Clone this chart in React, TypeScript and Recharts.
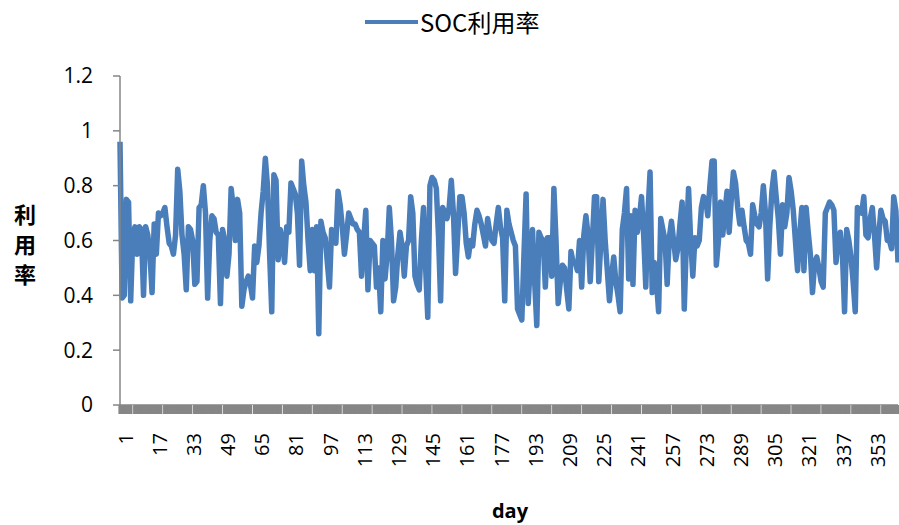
import React from "react";
import { LineChart, Line, XAxis, YAxis } from "recharts";

const days: number[] = Array.from({ length: 365 }, (_, i) => i + 1);

const socRate: number[] = [
  0.96, 0.39, 0.40, 0.75, 0.74, 0.38, 0.62, 0.65, 0.55, 0.65,
  0.64, 0.40, 0.65, 0.62, 0.55, 0.41, 0.66, 0.55, 0.70, 0.69,
  0.70, 0.72, 0.65, 0.59, 0.58, 0.55, 0.62, 0.86, 0.78, 0.62,
  0.55, 0.42, 0.65, 0.64, 0.60, 0.44, 0.45, 0.72, 0.73, 0.80,
  0.70, 0.39, 0.60, 0.69, 0.68, 0.63, 0.62, 0.37, 0.64, 0.60,
  0.47, 0.55, 0.79, 0.72, 0.60, 0.75, 0.70, 0.36, 0.42, 0.45,
  0.47, 0.44, 0.39, 0.58, 0.52, 0.58, 0.70, 0.78, 0.90, 0.80,
  0.55, 0.34, 0.84, 0.82, 0.53, 0.64, 0.60, 0.52, 0.65, 0.63,
  0.81, 0.79, 0.77, 0.70, 0.51, 0.89, 0.80, 0.74, 0.60, 0.49,
  0.64, 0.49, 0.65, 0.26, 0.67, 0.63, 0.61, 0.52, 0.43, 0.64,
  0.62, 0.59, 0.78, 0.73, 0.65, 0.55, 0.62, 0.70, 0.68, 0.66,
  0.66, 0.64, 0.63, 0.47, 0.60, 0.71, 0.42, 0.60, 0.59, 0.58,
  0.43, 0.50, 0.34, 0.60, 0.46, 0.55, 0.72, 0.60, 0.38, 0.43,
  0.55, 0.63, 0.58, 0.47, 0.58, 0.60, 0.76, 0.70, 0.47, 0.44,
  0.42, 0.60, 0.72, 0.50, 0.32, 0.80, 0.83, 0.82, 0.79, 0.62,
  0.38, 0.72, 0.70, 0.68, 0.72, 0.82, 0.70, 0.48, 0.62, 0.76,
  0.76, 0.70, 0.59, 0.54, 0.60, 0.58, 0.66, 0.71, 0.69, 0.66,
  0.62, 0.58, 0.68, 0.63, 0.60, 0.59, 0.66, 0.72, 0.65, 0.61,
  0.38, 0.71, 0.66, 0.63, 0.60, 0.58, 0.35, 0.33, 0.31, 0.55,
  0.77, 0.37, 0.52, 0.64, 0.45, 0.29, 0.63, 0.61, 0.60, 0.43,
  0.61, 0.61, 0.47, 0.79, 0.60, 0.37, 0.45, 0.51, 0.50, 0.42,
  0.35, 0.56, 0.52, 0.52, 0.49, 0.60, 0.43, 0.62, 0.69, 0.62,
  0.45, 0.60, 0.76, 0.76, 0.45, 0.60, 0.75, 0.60, 0.49, 0.38,
  0.47, 0.54, 0.45, 0.40, 0.34, 0.64, 0.70, 0.79, 0.46, 0.69,
  0.44, 0.71, 0.63, 0.68, 0.76, 0.62, 0.43, 0.70, 0.85, 0.41,
  0.52, 0.45, 0.34, 0.68, 0.64, 0.60, 0.44, 0.61, 0.67, 0.60,
  0.53, 0.57, 0.66, 0.74, 0.35, 0.60, 0.79, 0.60, 0.47, 0.61,
  0.58, 0.60, 0.72, 0.76, 0.75, 0.69, 0.80, 0.89, 0.89, 0.51,
  0.60, 0.74, 0.62, 0.70, 0.78, 0.63, 0.75, 0.85, 0.81, 0.72,
  0.66, 0.71, 0.65, 0.60, 0.59, 0.55, 0.73, 0.69, 0.66, 0.65,
  0.70, 0.80, 0.70, 0.46, 0.65, 0.78, 0.85, 0.76, 0.68, 0.55,
  0.73, 0.65, 0.70, 0.83, 0.78, 0.71, 0.60, 0.49, 0.62, 0.72,
  0.49, 0.72, 0.63, 0.55, 0.41, 0.52, 0.54, 0.50, 0.45, 0.43,
  0.70, 0.72, 0.74, 0.73, 0.71, 0.52, 0.60, 0.63, 0.55, 0.34,
  0.64, 0.60, 0.54, 0.45, 0.34, 0.72, 0.71, 0.70, 0.76, 0.62,
  0.61, 0.68, 0.72, 0.62, 0.50, 0.62, 0.71, 0.68, 0.67, 0.60,
  0.60, 0.57, 0.76, 0.71, 0.52,
];

const yTicks: number[] = [0, 0.2, 0.4, 0.6, 0.8, 1, 1.2];
const seriesName = "SOC利用率";
const yTitle = ["利", "用", "率"];
const xTitle = "day";

const data = days.map((d, i) => ({ day: d, soc: socRate[i] }));

const NUM_FONT = "'Open Sans', 'Liberation Sans', sans-serif";
const CJK_FONT = "'Noto Sans CJK SC', 'Noto Sans', sans-serif";
const LINE_COLOR = "#4A7EBB";
const AXIS_COLOR = "#868686";

const XTick = (props: any) => {
  const { x, y, index, payload } = props;
  const w = 3.2;
  const ly = y + 28;
  return (
    <g>
      <rect x={x - w / 2} y={y} width={w} height={9} fill={AXIS_COLOR} />
      {index % 14 === 6 && (
        <rect x={x - 0.5} y={y} width={1} height={9} fill="#ffffff" opacity={0.75} />
      )}
      {index % 16 === 0 && (
        <text
          x={x}
          y={ly}
          dy={5}
          transform={`rotate(-90 ${x} ${ly})`}
          textAnchor="end"
          dominantBaseline="central"
          fontFamily={NUM_FONT}
          fontSize={20}
          fill="#000"
        >
          {payload.value}
        </text>
      )}
    </g>
  );
};

export default function App() {
  return (
    <div style={{ position: "absolute", left: 0, top: 0, width: 899, height: 525, background: "#fff" }}>
      <LineChart
        width={899}
        height={525}
        data={data}
        margin={{ top: 76, right: 1, left: 60, bottom: 60 }}
      >
        <XAxis
          dataKey="day"
          interval={0}
          height={60}
          tickLine={false}
          tickSize={0}
          tickMargin={0}
          axisLine={{ stroke: AXIS_COLOR, strokeWidth: 1.5 }}
          tick={<XTick />}
        />
        <YAxis
          domain={[0, 1.2]}
          ticks={yTicks}
          width={60}
          tickSize={7}
          tickMargin={20}
          axisLine={{ stroke: AXIS_COLOR, strokeWidth: 1.5 }}
          tickLine={{ stroke: AXIS_COLOR, strokeWidth: 1.5 }}
          tick={{ fill: "#000", fontSize: 21, fontFamily: NUM_FONT }}
        />
        <Line
          type="linear"
          dataKey="soc"
          name={seriesName}
          stroke={LINE_COLOR}
          strokeWidth={5.5}
          strokeLinejoin="round"
          dot={false}
          activeDot={false}
          isAnimationActive={false}
        />
      </LineChart>

      <div style={{ position: "absolute", left: 365, top: 20, width: 53, height: 4, background: LINE_COLOR }} />
      <div
        style={{
          position: "absolute",
          left: 420,
          top: 5,
          fontFamily: CJK_FONT,
          fontSize: 24,
          lineHeight: "34px",
          color: "#000",
          whiteSpace: "nowrap",
        }}
      >
        {seriesName}
      </div>

      <div
        style={{
          position: "absolute",
          left: 12,
          top: 198,
          width: 26,
          fontFamily: CJK_FONT,
          fontWeight: 700,
          fontSize: 22,
          lineHeight: "30px",
          textAlign: "center",
          color: "#000",
        }}
      >
        {yTitle.map((c) => (
          <div key={c}>{c}</div>
        ))}
      </div>

      <div
        style={{
          position: "absolute",
          left: 470,
          width: 80,
          top: 497,
          textAlign: "center",
          fontFamily: NUM_FONT,
          fontWeight: 700,
          fontSize: 20,
          lineHeight: "28px",
          color: "#000",
        }}
      >
        {xTitle}
      </div>
    </div>
  );
}
